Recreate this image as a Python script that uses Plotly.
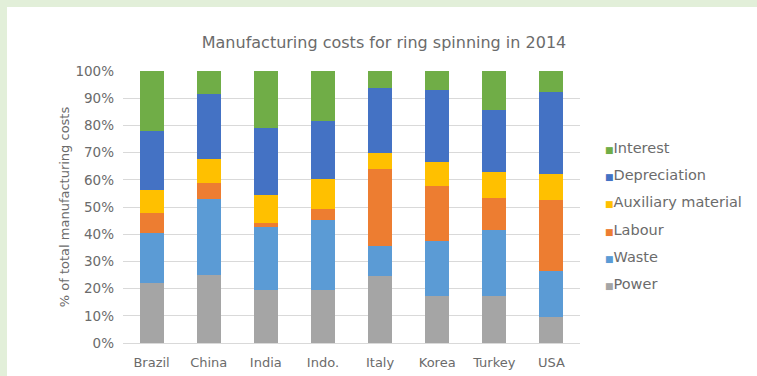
import plotly.graph_objects as go

# Cost shares (% of total manufacturing costs) per country, 2014
countries = ["Brazil", "China", "India", "Indo.", "Italy", "Korea", "Turkey", "USA"]
power = [22.0, 25.1, 19.6, 19.6, 24.5, 17.1, 17.1, 9.4]
waste = [18.4, 27.8, 22.9, 25.7, 11.2, 20.4, 24.5, 16.9]
labour = [7.3, 5.9, 1.8, 3.9, 28.2, 20.3, 11.6, 26.3]
auxiliary = [8.6, 8.8, 10.2, 11.0, 6.1, 8.9, 9.6, 9.5]
depreciation = [21.8, 23.8, 24.4, 21.6, 23.6, 26.3, 22.9, 30.3]
interest = [21.9, 8.6, 21.1, 18.2, 6.4, 7.0, 14.3, 7.6]

series = [
    ("Power", power, "#A5A5A5"),
    ("Waste", waste, "#5B9BD5"),
    ("Labour", labour, "#ED7D31"),
    ("Auxiliary material", auxiliary, "#FFC000"),
    ("Depreciation", depreciation, "#4472C4"),
    ("Interest", interest, "#70AD47"),
]

W, H = 757, 376
ML, MR, MT, MB = 123, 177, 71, 33
FONT = "DejaVu Sans, Verdana, sans-serif"
TXT = "#6B6B6B"

fig = go.Figure()
for name, vals, color in series:
    fig.add_trace(go.Bar(
        x=countries, y=vals, name=name, marker_color=color,
        marker_line_width=0, showlegend=False,
    ))

# pixel -> paper coordinate helpers
pw, ph = W - ML - MR, H - MT - MB
def px_x(p):
    return (p - ML) / pw
def px_y(p):
    return 1 - (p - MT) / ph

# light green frame along the top and left edges
frame = "#E2EFD9"
shapes = [
    dict(type="rect", xref="paper", yref="paper", x0=px_x(0), x1=px_x(W),
         y0=px_y(0), y1=px_y(7), fillcolor=frame, line_width=0, layer="below"),
    dict(type="rect", xref="paper", yref="paper", x0=px_x(0), x1=px_x(7),
         y0=px_y(0), y1=px_y(H), fillcolor=frame, line_width=0, layer="below"),
]

# legend entries (top entry = top of the stack)
annotations = []
for i, (name, _, color) in enumerate(reversed(series)):
    annotations.append(dict(
        xref="paper", yref="paper", x=px_x(603), y=px_y(148 + i * 27.2),
        xanchor="left", yanchor="middle", showarrow=False,
        text=f"<span style='font-size:9px;color:{color}'>■</span>{name}",
        font=dict(family=FONT, size=14.5, color=TXT),
    ))

fig.update_layout(
    width=W, height=H,
    margin=dict(l=ML, r=MR, t=MT, b=MB, autoexpand=False),
    paper_bgcolor="white", plot_bgcolor="white",
    barmode="stack", barnorm="percent", bargap=0.58,
    font=dict(family=FONT, size=13, color=TXT),
    title=dict(text="Manufacturing costs for ring spinning in 2014",
               x=384 / W, xref="container", xanchor="center",
               y=1 - 42 / H, yref="container", yanchor="middle",
               font=dict(size=16, color=TXT)),
    shapes=shapes,
    annotations=annotations,
    showlegend=False,
    xaxis=dict(showgrid=False, showline=True, linecolor="#D9D9D9",
               automargin=False,
               tickfont=dict(size=13, color=TXT), ticklabelstandoff=7),
    yaxis=dict(range=[0, 100], dtick=10, ticksuffix="%", automargin=False,
               gridcolor="#D9D9D9", gridwidth=1, zeroline=False,
               tickfont=dict(size=13.5, color=TXT), ticklabelstandoff=8,
               title=dict(text="% of total manufacturing costs",
                          font=dict(size=13, color=TXT), standoff=2)),
)

fig.write_html("out.html")
